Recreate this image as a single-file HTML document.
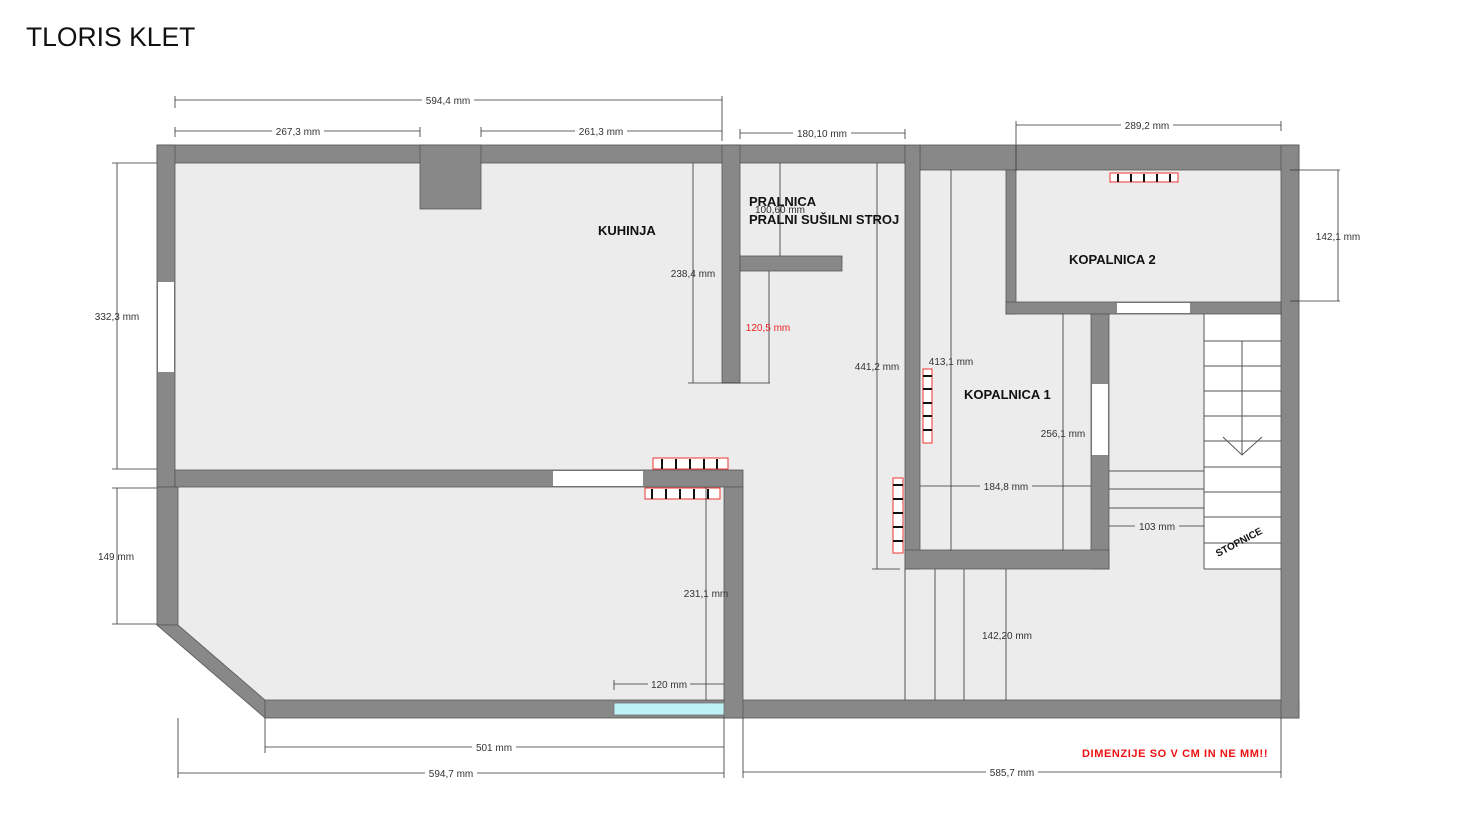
<!DOCTYPE html>
<html><head><meta charset="utf-8"><style>
body{margin:0;background:#fff;width:1484px;height:837px;overflow:hidden}
svg{display:block}
text{font-family:"Liberation Sans",sans-serif}
.d{font-size:10px;fill:#333}
.b{font-size:13px;font-weight:bold;fill:#111}
</style></head><body>
<svg width="1484" height="837" viewBox="0 0 1484 837">
<text x="26" y="46" font-size="26.5" fill="#111" style="font-family:'Liberation Sans',sans-serif">TLORIS KLET</text>
<polygon points="157,145 1299,145 1299,718 265,718 157,625" fill="#ececec"/>
<rect x="1204" y="314" width="77" height="255" fill="#fff"/>
<rect x="1016" y="170" width="265" height="132" fill="#ececec"/>
<g stroke="#555" stroke-width="1" fill="none">
<line x1="1204" y1="314" x2="1204" y2="569"/><line x1="1281" y1="569" x2="1204" y2="569"/>
<line x1="1204" y1="341" x2="1281" y2="341"/><line x1="1204" y1="366" x2="1281" y2="366"/>
<line x1="1204" y1="391" x2="1281" y2="391"/><line x1="1204" y1="416" x2="1281" y2="416"/>
<line x1="1204" y1="441" x2="1281" y2="441"/><line x1="1204" y1="467" x2="1281" y2="467"/>
<line x1="1204" y1="492" x2="1281" y2="492"/><line x1="1204" y1="517" x2="1281" y2="517"/>
<line x1="1204" y1="543" x2="1281" y2="543"/>
<line x1="1242" y1="341" x2="1242" y2="455"/><polyline points="1223,437 1242,455 1262,437"/>
<line x1="1109" y1="471" x2="1204" y2="471"/><line x1="1109" y1="489" x2="1204" y2="489"/><line x1="1109" y1="508" x2="1204" y2="508"/>
<line x1="905" y1="569" x2="905" y2="700"/><line x1="935" y1="569" x2="935" y2="700"/><line x1="964" y1="569" x2="964" y2="700"/>
</g>
<g fill="#888" stroke="#555" stroke-width="0.8">
<rect x="157" y="145" width="748" height="18"/>
<rect x="920" y="145" width="379" height="25"/>
<rect x="157" y="145" width="18" height="342"/>
<rect x="157" y="487" width="21" height="138"/>
<polygon points="157,625 178,625 265,700 265,718"/>
<rect x="265" y="700" width="1034" height="18"/>
<rect x="1281" y="145" width="18" height="573"/>
<rect x="420" y="145" width="61" height="64"/>
<rect x="722" y="145" width="18" height="238"/>
<rect x="740" y="256" width="102" height="15"/>
<rect x="905" y="145" width="15" height="424"/>
<rect x="1006" y="170" width="10" height="144"/>
<rect x="1006" y="302" width="275" height="12"/>
<rect x="1091" y="314" width="18" height="255"/>
<rect x="905" y="550" width="204" height="19"/>
<rect x="175" y="470" width="568" height="17"/>
<rect x="724" y="487" width="19" height="231"/>
</g>
<g fill="#fff">
<rect x="158" y="282" width="16" height="90"/>
<rect x="553" y="471" width="90" height="15"/>
<rect x="1117" y="303" width="73" height="10"/>
<rect x="1092" y="384" width="16" height="71"/>
</g>
<rect x="614" y="703" width="110" height="12" fill="#bdf3f7" stroke="#777" stroke-width="0.8"/>
<g stroke="#e33" stroke-width="1" fill="#fff">
<rect x="653" y="458" width="75" height="11"/><rect x="645" y="488" width="75" height="11"/>
<rect x="1110" y="173" width="68" height="9"/>
<rect x="923" y="369" width="9" height="74"/><rect x="893" y="478" width="10" height="75"/>
</g>
<g stroke="#111" stroke-width="2">
<path d="M662 459v10M676 459v10M690 459v10M704 459v10M717 459v10"/>
<path d="M652 489v10M666 489v10M680 489v10M694 489v10M708 489v10"/>
<path d="M1118 174v8M1131 174v8M1144 174v8M1157 174v8M1170 174v8"/>
<path d="M923 376h9M923 389h9M923 403h9M923 416h9M923 430h9"/>
<path d="M893 485h10M893 499h10M893 513h10M893 527h10M893 541h10"/>
</g>
<g stroke="#333" stroke-width="0.8" fill="none">
<path d="M175 100H722M175 96v12M722 96v45"/>
<path d="M175 131H420M175 127v10M420 127v10M481 131H722M481 127v10"/>
<path d="M740 133H905M740 129v10M905 129v10"/>
<path d="M1016 125H1281M1016 121v50M1281 121v10"/>
<path d="M1338 170V301M1290 170h50M1290 301h50"/>
<path d="M117 163V469M112 163h45M112 469h45"/>
<path d="M117 488V624M112 488h45M112 624h45"/>
<path d="M693 163V383M688 383h82M769 271V383"/>
<path d="M780 163V256"/>
<path d="M877 163V569M872 569h28"/>
<path d="M951 170V550"/>
<path d="M920 486H1091"/>
<path d="M1063 314V550"/>
<path d="M1109 526H1204"/>
<path d="M1006 569V700"/>
<path d="M706 487V700"/>
<path d="M614 684H724M614 680v10"/>
<path d="M265 747H724M265 718v35M724 718v35"/>
<path d="M178 773H724M178 718v60M724 753v25"/>
<path d="M743 772H1281M743 718v60M1281 718v60"/>
</g>
<g class="d" text-anchor="middle">
<rect x="422" y="94" width="52" height="12" fill="#fff"/><text x="448" y="104">594,4 mm</text>
<rect x="272" y="125" width="52" height="12" fill="#fff"/><text x="298" y="135">267,3 mm</text>
<rect x="575" y="125" width="52" height="12" fill="#fff"/><text x="601" y="135">261,3 mm</text>
<rect x="793" y="127" width="58" height="12" fill="#fff"/><text x="822" y="137">180,10 mm</text>
<rect x="1121" y="119" width="52" height="12" fill="#fff"/><text x="1147" y="129">289,2 mm</text>
<text x="1338" y="240">142,1 mm</text>
<text x="117" y="320">332,3 mm</text>
<text x="116" y="560">149 mm</text>
<text x="693" y="277">238,4 mm</text>
<text x="768" y="331" style="fill:#e22">120,5 mm</text>
<text x="780" y="213">100,60 mm</text>
<text x="877" y="370">441,2 mm</text>
<text x="951" y="365">413,1 mm</text>
<rect x="980" y="480" width="52" height="12" fill="#ececec"/><text x="1006" y="490">184,8 mm</text>
<text x="1063" y="437">256,1 mm</text>
<rect x="1135" y="520" width="44" height="12" fill="#ececec"/><text x="1157" y="530">103 mm</text>
<text x="1007" y="639">142,20 mm</text>
<text x="706" y="597">231,1 mm</text>
<rect x="648" y="678" width="42" height="12" fill="#ececec"/><text x="669" y="688">120 mm</text>
<rect x="472" y="741" width="44" height="12" fill="#fff"/><text x="494" y="751">501 mm</text>
<rect x="425" y="767" width="52" height="12" fill="#fff"/><text x="451" y="777">594,7 mm</text>
<rect x="986" y="766" width="52" height="12" fill="#fff"/><text x="1012" y="776">585,7 mm</text>
</g>
<g class="b">
<text x="598" y="235">KUHINJA</text>
<text x="749" y="206">PRALNICA</text>
<text x="749" y="224">PRALNI SUŠILNI STROJ</text>
<text x="1069" y="264">KOPALNICA 2</text>
<text x="964" y="399">KOPALNICA 1</text>
<text x="1218" y="557" font-size="10" transform="rotate(-28 1218 557)">STOPNICE</text>
<text x="1082" y="757" font-size="11" letter-spacing="0.6" style="fill:#e11">DIMENZIJE SO V CM IN NE MM!!</text>
</g>
</svg>
</body></html>
